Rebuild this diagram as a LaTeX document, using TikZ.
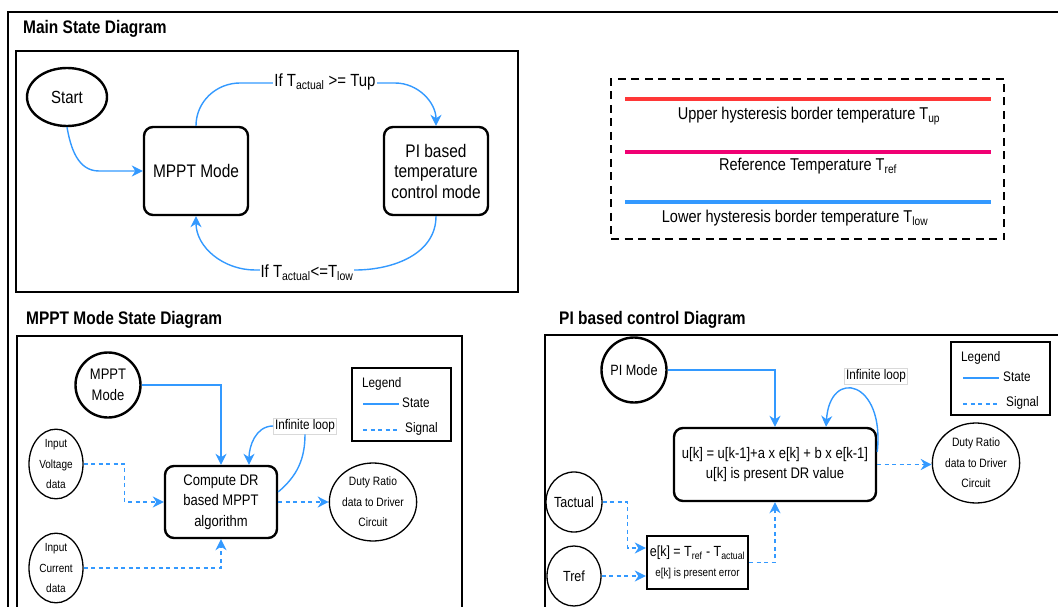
\documentclass[tikz,border=0pt]{standalone}
\usepackage{fontspec}
\setmainfont[FakeStretch=0.85]{Liberation Sans}
\usetikzlibrary{arrows.meta,shapes.geometric,calc}
\definecolor{flow}{RGB}{51,153,255}
\definecolor{upperred}{RGB}{255,55,55}
\definecolor{refpink}{RGB}{240,0,115}
\definecolor{lowerblue}{RGB}{51,153,255}
\tikzset{
  fs/.style={font=\fontsize{#1}{20.5}\selectfont},
  frame/.style={draw, line width=1.4},
  statebox/.style={draw, line width=2.4, rounded corners=9, align=center, inner sep=0},
  roundstate/.style={circle, draw, line width=2.4, align=center, inner sep=0},
  datanode/.style={ellipse, draw, line width=1.3, align=center, inner sep=0},
  flowarrow/.style={draw=flow, line width=1.4, -{Stealth[length=11pt,width=11pt,inset=3.5pt]}},
  sigarrow/.style={flowarrow, dash pattern=on 4pt off 3.5pt},
  looptag/.style={draw=black!15, fill=white, line width=0.8, inner sep=1.5pt, fs=13.8},
  cond/.style={fill=white, inner sep=1pt, fs=17.6},
  paneltitle/.style={anchor=west, inner sep=0, font=\bfseries\fontsize{18.2}{20}\selectfont},
  legtext/.style={anchor=west, inner sep=0, fs=13.8},
  hysttext/.style={inner sep=0, fs=17.1},
}
\begin{document}
\begin{tikzpicture}[x=1pt, y=-1pt]
\path[use as bounding box] (0,0) rectangle (1058,607);
\clip (0,0) rectangle (1058,607);

% outer frame and panels
\draw[line width=1.8] (8,12) rectangle (1070,620);
\draw[frame] (16,51) rectangle (518,292);
\draw[frame] (17,336) rectangle (462,620);
\draw[frame] (545,335) rectangle (1070,620);

\node[paneltitle] (t1) at (23,29) {Main State Diagram};
\node[paneltitle] (t2) at (26,320) {MPPT Mode State Diagram};
\node[paneltitle] (t3) at (559,320) {PI based control Diagram};

% ---------------- main state diagram ----------------
\node[ellipse, draw, line width=2.4, minimum width=80, minimum height=58, inner sep=0, fs=17.6] (start) at (67,97) {Start};
\node[statebox, minimum width=104, minimum height=88, fs=18.2] (mppt) at (196,171) {MPPT Mode};
\node[statebox, minimum width=104, minimum height=88, fs=18.2] (pi) at (436,171) {PI based\\temperature\\control mode};

\draw[flowarrow] (start.south) to[out=-80,in=180] (99,171) -- (mppt.west);
\draw[flowarrow] (mppt.north) to[out=90,in=180] (240,83) -- (395,83) to[out=0,in=90] (pi.north);
\draw[flowarrow] (pi.south) to[out=-90,in=0] (355,270) -- (255,270) to[out=180,in=-90] (mppt.south);
\node[cond] (up) at (325,82) {If T\textsubscript{actual} >= Tup};
\node[cond] (low) at (307,273) {If T\textsubscript{actual}<=T\textsubscript{low}};

% hysteresis legend
\node[draw, line width=2, dash pattern=on 8pt off 5.5pt, minimum width=393, minimum height=160, inner sep=0] (hyst) at (807.5,159) {};
\draw[upperred, line width=4.3] (625,99) -- (991,99);
\draw[refpink, line width=4.3] (625,152) -- (991,152);
\draw[lowerblue, line width=4.3] (625,202) -- (991,202);
\node[hysttext] (h1) at (809,116) {Upper hysteresis border temperature T\textsubscript{up}};
\node[hysttext] (h2) at (808,166) {Reference Temperature T\textsubscript{ref}};
\node[hysttext] (h3) at (795,218) {Lower hysteresis border temperature T\textsubscript{low}};

% ---------------- MPPT mode state diagram ----------------
\node[roundstate, minimum size=65, fs=15.3] (mpptc) at (108,385) {MPPT\\Mode};
\node[datanode, minimum width=54, minimum height=62, fs=11.8] (vin) at (56,464) {Input\\Voltage\\data};
\node[datanode, minimum width=54, minimum height=62, fs=11.8] (cin) at (56,568) {Input\\Current\\data};
\node[statebox, minimum width=112, minimum height=72, fs=15.3] (comp) at (221,502) {Compute DR\\based MPPT\\algorithm};
\node[datanode, minimum width=70, minimum height=78, fs=12.1] (duty1) at (373,502) {Duty Ratio\\data to Driver\\Circuit};
\node[looptag] (loop1) at (305,426) {Infinite loop};

\draw[flowarrow] (mpptc.east) -| (comp.north);
\draw[draw=flow, line width=1.4] (comp.10) to[out=40,in=-90] (loop1.south);
\draw[flowarrow] (loop1.west) to[out=180,in=90] ($(comp.north)+(28,0)$);
\draw[sigarrow] (vin.east) -- ++(41,0) |- (comp.west);
\draw[sigarrow] (cin.east) -| (comp.south);
\draw[sigarrow] (comp.east) -- (duty1.west);

\node[draw, line width=1.5, minimum width=99, minimum height=73, inner sep=0] (leg1) at (401.5,404.5) {};
\node[legtext] (leg1t) at (362,384) {Legend};
\draw[flow, line width=1.4] (363,404) -- (399,404);
\node[legtext] (leg1s) at (402,403) {State};
\draw[flow, line width=1.4, dash pattern=on 4pt off 3.5pt] (363,430) -- (399,430);
\node[legtext] (leg1g) at (405,429) {Signal};

% ---------------- PI based control diagram ----------------
\node[roundstate, minimum size=65, fs=14.9] (pim) at (634,370) {PI Mode};
\node[statebox, minimum width=202, minimum height=73, fs=15.3] (ubox) at (775,464.5) {u[k] = u[k-1]+a x e[k] + b x e[k-1]\\u[k] is present DR value};
\node[datanode, minimum width=71, minimum height=80, fs=12.1] (duty2) at (976,463) {Duty Ratio\\data to Driver\\Circuit};
\node[looptag] (loop2) at (876,376) {Infinite loop};
\node[datanode, minimum width=54, minimum height=60, fs=14.7] (tact) at (574,502) {Tactual};
\node[datanode, minimum width=54, minimum height=60, fs=14.7] (tref) at (574,576) {Tref};
\node[draw, line width=2.4, minimum width=101, minimum height=53, inner sep=0, align=center, font=\fontsize{14.7}{20}\selectfont] (err) at (697.5,562.5)
  {e[k] = T\textsubscript{ref} - T\textsubscript{actual}\\{\fontsize{11.5}{20}\selectfont e[k] is present error}};

\draw[flowarrow] (pim.east) -| (ubox.north);
\draw[flowarrow] (ubox.7) .. controls +(8,-71) and +(4,-60) .. ($(ubox.north)+(51,0)$);
\draw[sigarrow] (ubox.east) -- (ubox.east -| duty2.west);
\draw[sigarrow] (tact.east) -- ++(25,0) |- ($(err.west)+(0,-14.5)$);
\draw[sigarrow] (tref.east) -- (tref.east -| err.west);
\draw[sigarrow] (err.east) -| (ubox.south);

\node[draw, line width=1.5, minimum width=99, minimum height=73, inner sep=0] (leg2) at (1000.5,378.5) {};
\node[legtext] (leg2t) at (961,358) {Legend};
\draw[flow, line width=1.4] (963,378) -- (999,378);
\node[legtext] (leg2s) at (1003,377) {State};
\draw[flow, line width=1.4, dash pattern=on 4pt off 3.5pt] (963,404) -- (999,404);
\node[legtext] (leg2g) at (1006,403) {Signal};
\end{tikzpicture}
\end{document}
